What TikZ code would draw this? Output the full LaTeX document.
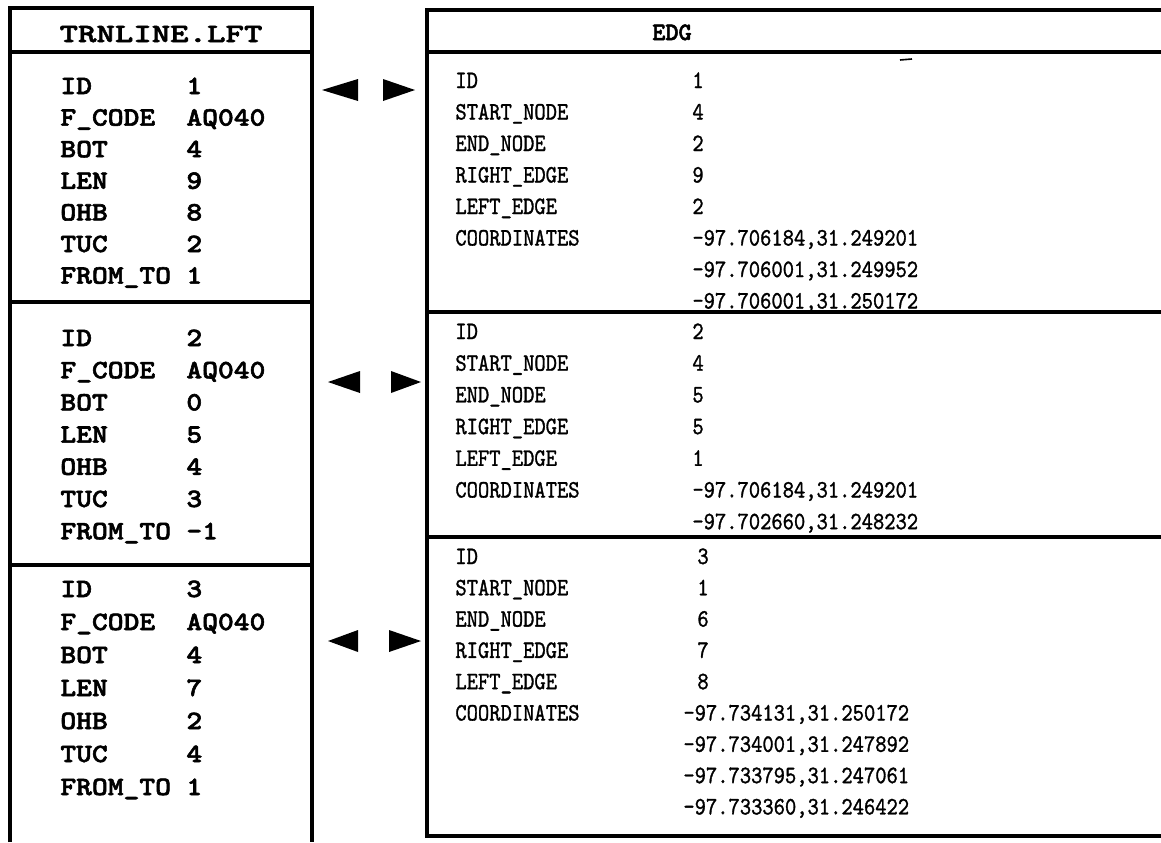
\documentclass[tikz,border=0pt]{standalone}
\usepackage{fontspec}
\newfontfamily\lftfont[FakeStretch=1.14,FakeBold=2.2]{lmmonolt10-bold.otf}
\newfontfamily\lfthdfont[FakeStretch=1.33,FakeBold=2.2]{lmmonolt10-bold.otf}
\newfontfamily\edgfont[FakeStretch=0.86,FakeBold=1.2]{lmmono10-regular.otf}
\newfontfamily\edghdfont[FakeBold=2]{lmmonolt10-bold.otf}

\begin{document}
\begin{tikzpicture}[x=0.5pt, y=-0.5pt,
  frame/.style={line width=1.8pt},
  lftcell/.style={font=\lftfont\fontsize{13.2}{15}\selectfont, anchor=base west, inner sep=0pt},
  edgcell/.style={font=\edgfont\fontsize{12.5}{15}\selectfont, anchor=base west, inner sep=0pt},
  lfthead/.style={font=\lfthdfont\fontsize{13.2}{15}\selectfont, anchor=base, inner sep=0pt},
  edghead/.style={font=\edghdfont\fontsize{12.5}{15}\selectfont, anchor=base, inner sep=0pt}]
  \useasboundingbox (0,0) rectangle (1161,842);
  % TRNLINE.LFT table
  \draw[frame] (10,842) -- (10,8) -- (312,8) -- (312,842);
  \draw[frame] (10,52) -- (312,52) (10,302) -- (312,302) (10,565) -- (312,565);
  \node[lfthead] (lfttitle) at (161,42) {TRNLINE.LFT};
  \foreach \sec/\top/\dy/\id/\bot/\len/\ohb/\tuc/\ft in {1/94/31.6/1/4/9/8/2/1, 2/346/32.2/2/0/5/4/3/-1, 3/597/33/3/4/7/2/4/1} {
    \foreach \lab/\val [count=\i from 0] in {ID/\id, F\_CODE/AQ040, BOT/\bot, LEN/\len, OHB/\ohb, TUC/\tuc, FROM\_TO/\ft} {
      \node[lftcell] (lft\sec-lab\i) at (60,\top+\dy*\i) {\lab};
      \node[lftcell] (lft\sec-val\i) at (186,\top+\dy*\i) {\val};
    }
  }
  % EDG table
  \draw[frame] (1161,10) -- (427,10) -- (427,836) -- (1161,836);
  \draw[frame] (427,52) -- (1161,52) (427,312) -- (1161,312) (427,537) -- (1161,537);
  \draw[line width=0.8pt] (900,60) -- (912,59);
  \node[edghead] (edgtitle) at (672,40) {EDG};
  \foreach \sec/\top/\dy in {1/88/31.5, 2/339/31.7, 3/564/31.3} {
    \foreach \lab [count=\i from 0] in {ID, START\_NODE, END\_NODE, RIGHT\_EDGE, LEFT\_EDGE, COORDINATES}
      \node[edgcell] (edg\sec-lab\i) at (455,\top+\dy*\i) {\lab};
  }
  \foreach \val [count=\i from 0] in {1,4,2,9,2}
    \node[edgcell] (edg1-val\i) at (692,88+31.5*\i) {\val};
  \foreach \xy [count=\i from 0] in {{-97.706184,31.249201},{-97.706001,31.249952},{-97.706001,31.250172}}
    \node[edgcell] (edg1-xy\i) at (692,245.5+31.5*\i) {\xy};
  \foreach \val [count=\i from 0] in {2,4,5,5,1}
    \node[edgcell] (edg2-val\i) at (692,339+31.7*\i) {\val};
  \foreach \xy [count=\i from 0] in {{-97.706184,31.249201},{-97.702660,31.248232}}
    \node[edgcell] (edg2-xy\i) at (692,497.5+31.7*\i) {\xy};
  \foreach \val [count=\i from 0] in {3,1,6,7,8}
    \node[edgcell] (edg3-val\i) at (697,564+31.3*\i) {\val};
  \foreach \xy [count=\i from 0] in {{-97.734131,31.250172},{-97.734001,31.247892},{-97.733795,31.247061},{-97.733360,31.246422}}
    \node[edgcell] (edg3-xy\i) at (683,720.5+31.3*\i) {\xy};
  % link markers between the tables
  \foreach \y/\a/\b/\c/\d in {90/322/358/383/415, 382/328/360/391/421, 641/328/358/389/421} {
    \fill (\a,\y) -- (\b,\y-11) -- (\b,\y+11) -- cycle;
    \fill (\d,\y) -- (\c,\y-11) -- (\c,\y+11) -- cycle;
  }
\end{tikzpicture}
\end{document}
